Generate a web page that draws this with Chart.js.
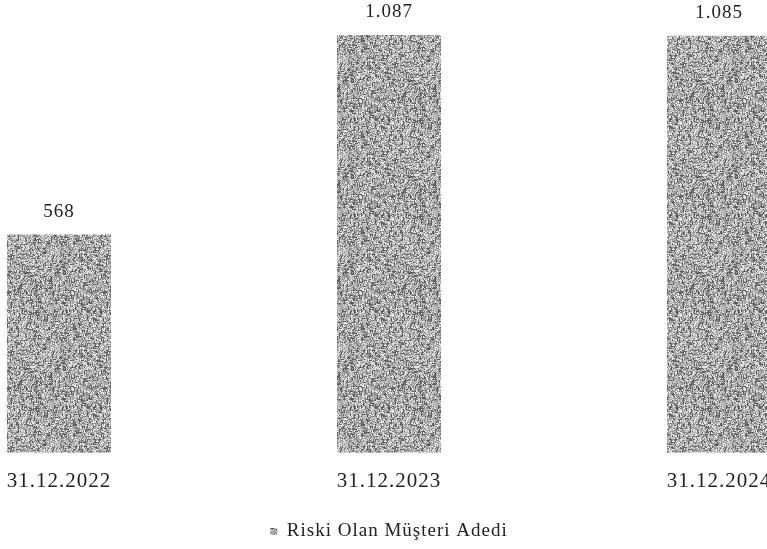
<!DOCTYPE html>
<html>
<head>
<meta charset="utf-8">
<script src="https://cdn.jsdelivr.net/npm/chart.js@4"></script>
<style>
  html, body { margin: 0; padding: 0; background: #fff; overflow: hidden; }
  #wrap { position: absolute; left: -106px; top: 0; width: 990px; height: 551px; }
</style>
</head>
<body>
<div id="wrap"><canvas id="myChart"></canvas></div>
<script>
const categories = ['31.12.2022', '31.12.2023', '31.12.2024'];
const seriesName = 'Riski Olan Müşteri Adedi';
const values = [568, 1087, 1085];

// grey speckled fill like the scanned original (fixed seed, not data)
function makeNoisePattern() {
    const n = 96;
    const c = document.createElement('canvas');
    c.width = n; c.height = n;
    const g = c.getContext('2d');
    const img = g.createImageData(n, n);
    let s = 12345;
    const rnd = () => { s = (s * 1103515245 + 12345) & 0x7fffffff; return (s >> 8) % 100; };
    const px = new Array(n * n);
    for (let i = 0; i < n * n; i++) {
        const r = rnd();
        px[i] = r < 16 ? 110 : r < 46 ? 228 : 150 + (r % 35);
    }
    // short dark streaks for the coarse, wormy look
    for (let k = 0; k < 500; k++) {
        const x = Math.floor(rnd() * n / 100), y = Math.floor(rnd() * n / 100);
        const len = 2 + (rnd() % 3);
        const dir = rnd() % 2;
        for (let j = 0; j < len; j++) {
            const xx = (x + (dir ? j : 0)) % n, yy = (y + (dir ? 0 : j)) % n;
            px[yy * n + xx] = 95;
        }
    }
    for (let i = 0; i < n * n; i++) {
        img.data[i * 4] = px[i];
        img.data[i * 4 + 1] = px[i];
        img.data[i * 4 + 2] = px[i];
        img.data[i * 4 + 3] = 255;
    }
    g.putImageData(img, 0, 0);
    return g.createPattern(c, 'repeat');
}
const noise = makeNoisePattern();

const fmt = v => v.toLocaleString('de-DE');

// the scanned text is loosely spaced; canvas state resets on resize so set it each pass
const spacing = {
    id: 'spacing',
    beforeUpdate(chart) { chart.ctx.letterSpacing = '1px'; },
    beforeDraw(chart) { chart.ctx.letterSpacing = '1px'; }
};

const valueLabels = {
    id: 'valueLabels',
    afterDatasetsDraw(chart) {
        const ctx = chart.ctx;
        ctx.save();
        ctx.font = '19px "Liberation Serif", serif';
        ctx.fillStyle = '#222';
        ctx.textAlign = 'center';
        ctx.textBaseline = 'bottom';
        chart.getDatasetMeta(0).data.forEach((bar, i) => {
            ctx.fillText(fmt(values[i]), bar.x, bar.y - 13);
        });
        ctx.restore();
    }
};

const ctx = document.getElementById('myChart').getContext('2d');
const chart = new Chart(ctx, {
    type: 'bar',
    data: {
        labels: categories,
        datasets: [{
            label: seriesName,
            data: values,
            backgroundColor: noise,
            borderWidth: 0,
            categoryPercentage: 1,
            barPercentage: 0.315
        }]
    },
    options: {
        responsive: true,
        maintainAspectRatio: false,
        animation: false,
        layout: { padding: { top: 35, bottom: 0, left: 0, right: 0 } },
        plugins: {
            legend: {
                position: 'bottom',
                labels: {
                    boxWidth: 7,
                    boxHeight: 7,
                    padding: 20,
                    color: '#222',
                    font: { family: '"Liberation Serif", serif', size: 19 }
                }
            },
            tooltip: { enabled: false }
        },
        scales: {
            x: {
                grid: { display: false },
                border: { display: false },
                ticks: {
                    color: '#222',
                    padding: 8,
                    font: { family: '"Liberation Serif", serif', size: 21 }
                }
            },
            y: {
                display: false,
                min: 0,
                max: Math.max(...values)
            }
        }
    },
    plugins: [spacing, valueLabels]
});
</script>
</body>
</html>
